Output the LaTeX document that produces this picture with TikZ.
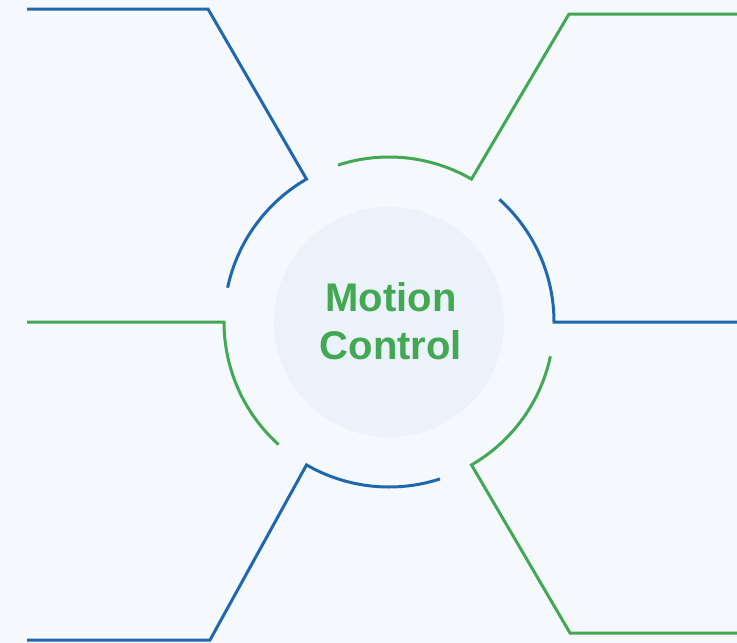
\documentclass[tikz,border=0pt]{standalone}
\usepackage{fontspec}
\setmainfont{Liberation Sans}
\definecolor{bg}{HTML}{F5F8FC}
\definecolor{disc}{HTML}{EBF2FA}
\definecolor{cblue}{HTML}{1F68AE}
\definecolor{cgreen}{HTML}{43A853}
\begin{document}
\begin{tikzpicture}[x=1pt,y=-1pt,
  bline/.style={draw=cblue,line width=3pt,line join=miter},
  gline/.style={draw=cgreen,line width=3pt,line join=miter}]
\fill[bg] (0,0) rectangle (737,643);
\useasboundingbox (0,0) rectangle (737,643);
\coordinate (c) at (389,322);
\node[circle,fill=disc,minimum size=230pt,inner sep=0pt] (disc) at (c) {};
\node[text=cgreen,font=\fontsize{40}{48}\selectfont\bfseries,align=center] (title) at (391,321) {Motion\\Control};
% corner and end points of the leader lines
\coordinate (k1) at (208,9);   \coordinate (e1) at (27,9);
\coordinate (k2) at (569,14);  \coordinate (e2) at (737,14);
\coordinate (e3) at (737,322);
\coordinate (k4) at (570,633); \coordinate (e4) at (737,633);
\coordinate (k5) at (210,640); \coordinate (e5) at (27,640);
\coordinate (e6) at (27,322);
% arcs of radius 165 round c (angles negated because the y axis points down)
\draw[bline] ([shift={(-168:165)}]c) arc[start angle=-168,end angle=-120,radius=165] -- (k1) -- (e1);
\draw[gline] ([shift={(-108:165)}]c) arc[start angle=-108,end angle=-60,radius=165] -- (k2) -- (e2);
\draw[bline] ([shift={(-48:165)}]c) arc[start angle=-48,end angle=0,radius=165] -- (e3);
\draw[gline] ([shift={(12:165)}]c) arc[start angle=12,end angle=60,radius=165] -- (k4) -- (e4);
\draw[bline] ([shift={(72:165)}]c) arc[start angle=72,end angle=120,radius=165] -- (k5) -- (e5);
\draw[gline] ([shift={(132:165)}]c) arc[start angle=132,end angle=180,radius=165] -- (e6);
\end{tikzpicture}
\end{document}
